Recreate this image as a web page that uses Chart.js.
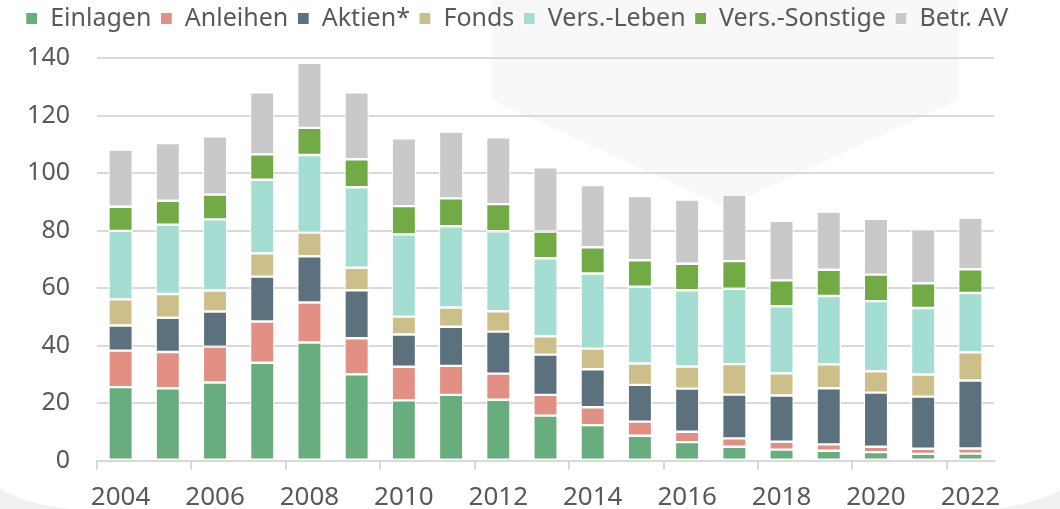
<!DOCTYPE html>
<html lang="de">
<head>
<meta charset="utf-8">
<title>Geldvermögen</title>
<script src="https://cdn.jsdelivr.net/npm/chart.js@4.4.1/dist/chart.umd.min.js"></script>
<style>
    html, body { margin: 0; padding: 0; background: #ffffff; }
    #contenedor { position: relative; width: 1060px; height: 509px; }
</style>
</head>
<body>
<div id="contenedor">
    <canvas id="grafico-vermoegen" width="1060" height="509"></canvas>
</div>
<script>
// Datos
const anios = ['2004', '2005', '2006', '2007', '2008', '2009', '2010', '2011', '2012', '2013',
    '2014', '2015', '2016', '2017', '2018', '2019', '2020', '2021', '2022'];

const einlagen = [25.6, 25.2, 27.2, 34.1, 41.1, 30.1, 21.0, 22.9, 21.2, 15.7, 12.4, 8.7, 6.5, 4.9, 3.9, 3.5, 3.0, 2.4, 2.5];
const anleihen = [12.7, 12.6, 12.5, 14.3, 13.9, 12.5, 11.7, 10.1, 9.1, 7.2, 6.2, 4.9, 3.6, 2.9, 2.7, 2.2, 1.9, 1.8, 1.8];
const aktien = [8.7, 11.9, 12.2, 15.6, 16.1, 16.7, 11.2, 13.6, 14.6, 14.0, 13.2, 12.8, 15.0, 15.2, 16.1, 19.5, 18.8, 18.1, 23.6];
const fonds = [9.1, 8.3, 7.3, 8.1, 8.2, 7.8, 6.2, 6.7, 7.1, 6.4, 7.2, 7.4, 7.7, 10.6, 7.7, 8.3, 7.4, 7.7, 9.8];
const versLeben = [23.8, 24.1, 24.7, 25.6, 27.0, 28.0, 28.6, 28.2, 27.8, 27.1, 26.1, 26.7, 26.5, 26.2, 23.3, 23.8, 24.4, 23.1, 20.6];
const versSonstige = [8.4, 8.3, 8.6, 8.8, 9.4, 9.7, 9.8, 9.7, 9.4, 9.3, 9.1, 9.2, 9.2, 9.6, 9.0, 9.1, 9.2, 8.6, 8.3];
const betrAV = [19.9, 20.0, 20.3, 21.6, 22.6, 23.3, 23.6, 23.2, 23.2, 22.3, 21.6, 22.3, 22.3, 23.1, 20.7, 20.2, 19.4, 18.8, 17.9];

const ticksY = [0, 20, 40, 60, 80, 100, 120, 140];

const colorTexto = '#595959';
const colorRejilla = '#d9d9d9';
const fuente = "'Noto Sans', 'Open Sans', sans-serif";

// Forma gris clara de fondo (decoración)
const fondoDecorativo = {
    id: 'fondoDecorativo',
    beforeDraw(chart) {
        const ctx = chart.ctx;
        ctx.save();
        ctx.fillStyle = '#f8f8f8';
        ctx.beginPath();
        ctx.moveTo(492, 0);
        ctx.lineTo(958, 0);
        ctx.lineTo(958, 100);
        ctx.lineTo(725, 207);
        ctx.lineTo(492, 100);
        ctx.closePath();
        ctx.fill();
        ctx.fillStyle = '#f1f1f1';
        ctx.beginPath();
        ctx.moveTo(0, 488);
        ctx.quadraticCurveTo(20, 503, 70, 509);
        ctx.lineTo(0, 509);
        ctx.closePath();
        ctx.fill();
        ctx.beginPath();
        ctx.moveTo(1060, 490);
        ctx.quadraticCurveTo(1040, 502, 995, 509);
        ctx.lineTo(1060, 509);
        ctx.closePath();
        ctx.fill();
        ctx.restore();
    }
};

// Alto fijo para la leyenda
const margenLeyenda = {
    id: 'margenLeyenda',
    beforeInit(chart) {
        const fitOriginal = chart.legend.fit;
        chart.legend.fit = function fit() {
            fitOriginal.bind(chart.legend)();
            this.height = 61;
        };
    }
};

function crearSerie(label, data, color) {
    return {
        label,
        data,
        backgroundColor: color,
        borderColor: '#ffffff',
        borderWidth: 1.2,
        borderSkipped: false,
        barPercentage: 0.515,
        categoryPercentage: 1
    };
}

const ctx = document.getElementById('grafico-vermoegen');
const grafico = new Chart(ctx, {
    type: 'bar',
    data: {
        labels: anios,
        datasets: [
            crearSerie('Einlagen', einlagen, '#68ad7d'),
            crearSerie('Anleihen', anleihen, '#e28f84'),
            crearSerie('Aktien*', aktien, '#5b717e'),
            crearSerie('Fonds', fonds, '#cdbf89'),
            crearSerie('Vers.-Leben', versLeben, '#a4ded2'),
            crearSerie('Vers.-Sonstige', versSonstige, '#72ab46'),
            crearSerie('Betr. AV', betrAV, '#c9c9c9')
        ]
    },
    options: {
        responsive: false,
        animation: false,
        layout: { padding: { top: -3, right: 26, bottom: -16, left: 0 } },
        plugins: {
            title: { display: false },
            tooltip: { enabled: false },
            legend: {
                position: 'top',
                labels: {
                    boxWidth: 12,
                    boxHeight: 12,
                    padding: 9,
                    color: colorTexto,
                    font: { family: fuente, size: 25 }
                }
            }
        },
        scales: {
            x: {
                stacked: true,
                grid: {
                    drawOnChartArea: false,
                    drawTicks: true,
                    tickLength: 9,
                    lineWidth: 2,
                    color: c => (c.index % 2 === 0 ? colorRejilla : 'rgba(0,0,0,0)')
                },
                border: { display: true, color: colorRejilla, width: 2 },
                ticks: {
                    autoSkip: false,
                    maxRotation: 0,
                    padding: 12,
                    color: colorTexto,
                    font: { family: fuente, size: 26 },
                    callback: function(valor, indice) {
                        return indice % 2 === 0 ? this.getLabelForValue(valor) : '';
                    }
                }
            },
            y: {
                stacked: true,
                min: 0,
                max: 140,
                afterFit: escala => { escala.width = 97; },
                afterBuildTicks: escala => {
                    escala.ticks = ticksY.map(v => ({ value: v }));
                },
                grid: { color: colorRejilla, lineWidth: 2, drawTicks: false },
                border: { display: false },
                ticks: {
                    padding: 27,
                    color: colorTexto,
                    font: { family: fuente, size: 25 }
                }
            },
            // eje vacío a la derecha, solo para dejar margen
            margenDerecho: {
                position: 'right',
                min: 0,
                max: 140,
                afterFit: escala => { escala.width = 40; },
                grid: { display: false },
                border: { display: false },
                ticks: { display: false }
            }
        }
    },
    plugins: [fondoDecorativo, margenLeyenda]
});
</script>
</body>
</html>
